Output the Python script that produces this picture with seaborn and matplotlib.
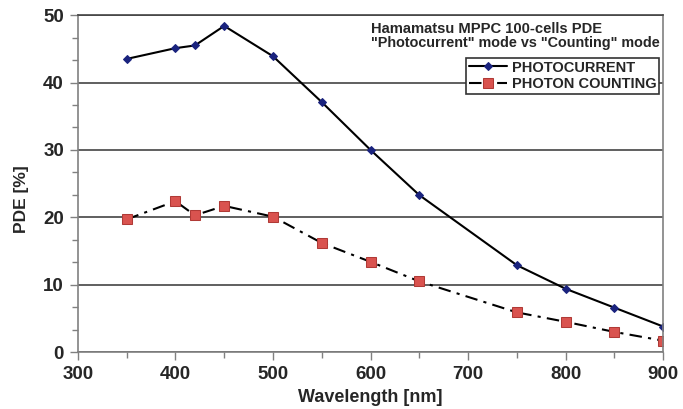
import matplotlib
matplotlib.use('Agg')
import matplotlib.pyplot as plt
import seaborn as sns
import pandas as pd
from matplotlib.ticker import MultipleLocator
from matplotlib.font_manager import FontProperties

# Data
wavelength = [350, 400, 420, 450, 500, 550, 600, 650, 750, 800, 850, 900]
photocurrent = [43.5, 45.1, 45.5, 48.4, 43.9, 37.1, 30.0, 23.3, 12.9, 9.4, 6.6, 3.8]
photon_counting = [19.7, 22.4, 20.3, 21.7, 20.1, 16.2, 13.4, 10.5, 5.9, 4.5, 3.0, 1.7]

sns.set_theme(style='white')
plt.rcParams['font.family'] = ['Liberation Sans', 'DejaVu Sans']
plt.rcParams['font.weight'] = 'bold'

df = pd.DataFrame({'wavelength': wavelength,
                   'photocurrent': photocurrent,
                   'counting': photon_counting})

fig = plt.figure(figsize=(6.83, 4.09), dpi=100)
ax = fig.add_axes([0.114, 0.139, 0.857, 0.824])

sns.lineplot(data=df, x='wavelength', y='photocurrent', ax=ax, color='black',
             linewidth=1.5, marker='D', markersize=4, markerfacecolor='#1a237e',
             markeredgecolor='#1a237e', label='PHOTOCURRENT')
sns.lineplot(data=df, x='wavelength', y='counting', ax=ax, color='black',
             linewidth=1.5, marker='s', markersize=6.5, markerfacecolor='#d9534f',
             markeredgecolor='#b03a36', dashes=False, label='PHOTON COUNTING')
ax.lines[1].set_dashes([6, 3, 1.5, 3])

ax.set_xlim(300, 900)
ax.set_ylim(0, 50)
ax.xaxis.set_major_locator(MultipleLocator(100))
ax.xaxis.set_minor_locator(MultipleLocator(50))
ax.yaxis.set_major_locator(MultipleLocator(10))
ax.yaxis.set_minor_locator(MultipleLocator(10 / 3))

ax.grid(axis='y', color='#444444', linewidth=1.2)
ax.set_axisbelow(True)
for side in ['left', 'bottom', 'right', 'top']:
    ax.spines[side].set_color('#808080')
    ax.spines[side].set_linewidth(1.2)
ax.spines['top'].set_color('#444444')

ax.tick_params(axis='both', which='major', direction='out', length=6, width=1,
               color='#808080', labelsize=13.5, pad=4,
               bottom=True, left=True)
ax.tick_params(axis='both', which='minor', direction='out', length=4, width=1,
               color='#808080', bottom=True, left=True)
for lab in ax.get_xticklabels() + ax.get_yticklabels():
    lab.set_fontweight('bold')

ax.set_xlabel('Wavelength [nm]', fontsize=13, fontweight='bold', labelpad=4)
ax.set_ylabel('PDE [%]', fontsize=12.5, fontweight='bold', labelpad=8)
ax.yaxis.set_label_coords(-0.083, 0.454)

# two-line note in the upper right corner
ax.text(0.500, 0.959, 'Hamamatsu MPPC 100-cells PDE', transform=ax.transAxes,
        fontsize=10.6, fontweight='bold', ha='left', va='center')
ax.text(0.500, 0.917, '"Photocurrent" mode vs "Counting" mode', transform=ax.transAxes,
        fontsize=10.4, fontweight='bold', ha='left', va='center')

leg_font = FontProperties(family='Liberation Sans', weight='bold', size=10.5)
leg = ax.legend(loc='upper right', bbox_to_anchor=(0.993, 0.874), borderaxespad=0,
                fancybox=False, framealpha=1, edgecolor='#333333',
                prop=leg_font, handlelength=2.6,
                handletextpad=0.3, borderpad=0.2, labelspacing=0.15)
leg.get_frame().set_linewidth(1.2)

fig.savefig('out.png', dpi=100)
